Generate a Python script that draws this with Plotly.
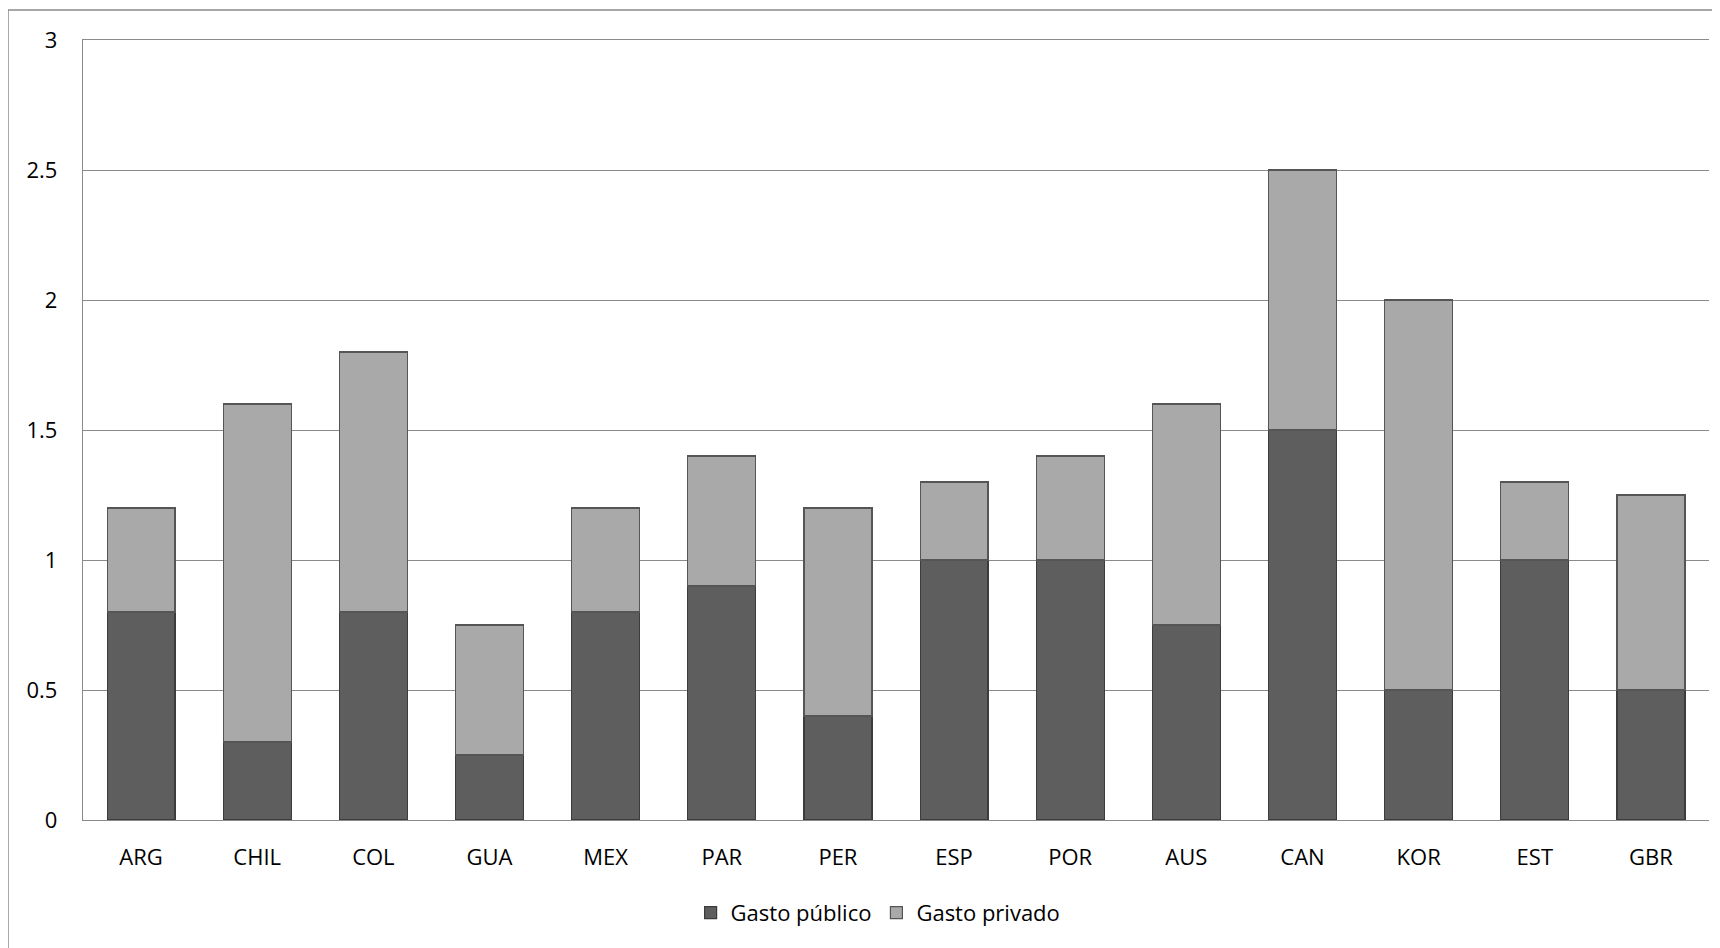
import plotly.graph_objects as go

paises = ['ARG', 'CHIL', 'COL', 'GUA', 'MEX', 'PAR', 'PER', 'ESP', 'POR', 'AUS', 'CAN', 'KOR', 'EST', 'GBR']
gasto_publico = [0.8, 0.3, 0.8, 0.25, 0.8, 0.9, 0.4, 1.0, 1.0, 0.75, 1.5, 0.5, 1.0, 0.5]
gasto_privado = [0.4, 1.3, 1.0, 0.5, 0.4, 0.5, 0.8, 0.3, 0.4, 0.85, 1.0, 1.5, 0.3, 0.75]
y_ticks = [0, 0.5, 1, 1.5, 2, 2.5, 3]
y_labels = ['0', '0.5', '1', '1.5', '2', '2.5', '3']

fuente = 'Open Sans'
gris = '#8a8a8a'

fig = go.Figure()
fig.add_trace(go.Bar(
    x=paises, y=gasto_publico, name='Gasto público',
    marker=dict(color='#5e5e5e', line=dict(color='#3c3c3c', width=1.2)),
))
fig.add_trace(go.Bar(
    x=paises, y=gasto_privado, name='Gasto privado',
    marker=dict(color='#a9a9a9', line=dict(color='#555555', width=1.2)),
))

fig.update_layout(
    barmode='stack',
    bargap=0.415,
    width=1720, height=948,
    margin=dict(l=75, r=19, t=32, b=136, autoexpand=False),
    plot_bgcolor='white', paper_bgcolor='white',
    font=dict(family=fuente, size=22, color='#000000'),
    showlegend=True,
    legend=dict(orientation='h', x=0.489, xanchor='center', y=-0.119, yanchor='middle',
                font=dict(size=22), itemwidth=30, traceorder='normal'),
)
# la línea del eje x reflejada arriba hace de línea de cuadrícula en 3
fig.update_xaxes(
    showline=True, mirror=True, linecolor=gris, linewidth=1.4,
    showgrid=False, ticks='', ticklabelstandoff=17, automargin=False,
)
fig.update_yaxes(
    range=[0, 3], tickvals=y_ticks, ticktext=y_labels,
    showgrid=True, gridcolor=gris, gridwidth=1.4,
    showline=True, linecolor=gris, linewidth=1.4,
    zeroline=True, zerolinecolor=gris, zerolinewidth=1.4,
    ticks='', ticklabelstandoff=20, automargin=False,
)

# marco exterior del gráfico (solo se ven los bordes superior e izquierdo)
fig.add_shape(type='rect', xref='paper', yref='paper',
              x0=-0.0461, x1=1.02, y0=-0.19, y1=1.0385,
              line=dict(color=gris, width=1.4), layer='below')

fig.write_html("out.html")
